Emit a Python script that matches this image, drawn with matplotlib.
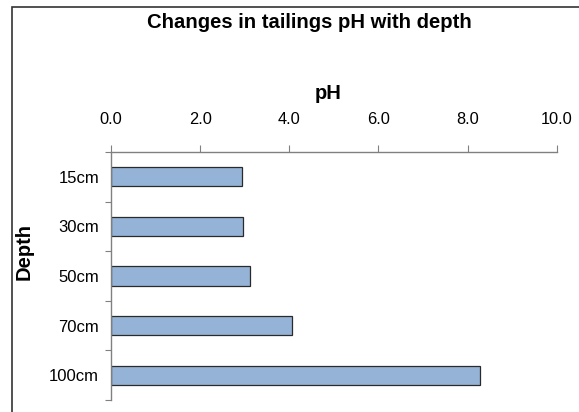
import matplotlib.pyplot as plt
import matplotlib.patches as mpatches
import numpy as np

plt.rcParams['font.family'] = ['Liberation Sans', 'DejaVu Sans']

depths = ['15cm', '30cm', '50cm', '70cm', '100cm']
ph = [2.94, 2.97, 3.11, 4.05, 8.28]
xticks = [0, 2, 4, 6, 8, 10]

fig = plt.figure(figsize=(5.79, 4.12), dpi=100)
ax = fig.add_axes([111/579, 12/412, 445.7/579, 248/412])

y = np.arange(len(depths))
ax.barh(y, ph, height=0.39, color='#95b3d7', edgecolor='#2a2a2a', linewidth=0.9)
ax.set_ylim(len(depths) - 0.5, -0.5)
ax.set_xlim(0, 10)

# axis on top, only left + top spines
ax.xaxis.tick_top()
ax.xaxis.set_label_position('top')
for s in ['right', 'bottom']:
    ax.spines[s].set_visible(False)
for s in ['left', 'top']:
    ax.spines[s].set_color('#808080')
    ax.spines[s].set_linewidth(1.0)

ax.set_xticks(xticks)
ax.set_xticklabels(['%.1f' % v for v in xticks])
ax.tick_params(axis='x', direction='out', length=5, color='#808080', pad=13, labelsize=11.8)

# category boundaries as major ticks, labels on minor ticks
ax.set_yticks(np.arange(-0.5, len(depths), 1.0))
ax.set_yticklabels([])
ax.set_yticks(y, minor=True)
ax.set_yticklabels(depths, minor=True)
ax.tick_params(axis='y', which='major', direction='out', length=4.5, color='#808080')
ax.tick_params(axis='y', which='minor', length=0, pad=8.6, labelsize=12)

ax.set_xlabel('pH', fontsize=14.5, fontweight='bold', va='baseline')
ax.xaxis.set_label_coords(0.4877, 1.214)
ax.set_ylabel('Depth', fontsize=14.5, fontweight='bold')
ax.yaxis.set_label_coords(-0.1726, 0.599)

fig.text(309.5/579, 1 - 28/412, 'Changes in tailings pH with depth',
         ha='center', va='baseline', fontsize=14.6, fontweight='bold')

# chart frame (runs off the right and bottom edges)
fig.patches.append(mpatches.Rectangle((11.5/579, -0.1), 1.2, 1 - 6.5/412 + 0.1,
                                      transform=fig.transFigure, fill=False,
                                      edgecolor='#333333', linewidth=1.2))

fig.savefig('out.png', dpi=100)
